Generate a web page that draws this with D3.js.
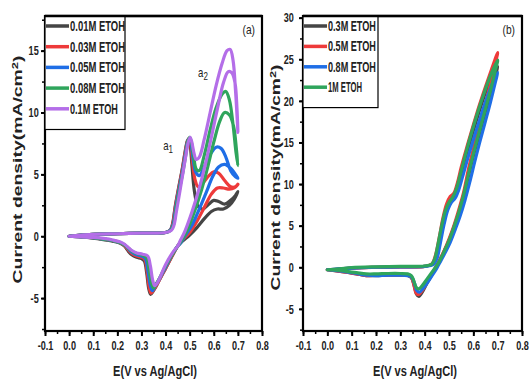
<!DOCTYPE html>
<html>
<head>
<meta charset="utf-8">
<script src="https://cdn.jsdelivr.net/npm/d3@7"></script>
<style>
  body { margin: 0; background: #fff; }
  svg { display: block; font-family: "Liberation Sans", Arial, sans-serif; }
</style>
</head>
<body>
<svg id="chart" width="529" height="381"></svg>
<script>
// ---- tick values -------------------------------------------------------
const potentialTicks = [-0.1, 0.0, 0.1, 0.2, 0.3, 0.4, 0.5, 0.6, 0.7, 0.8];
const currentTicksA = [-5, 0, 5, 10, 15];
const currentTicksB = [-5, 0, 5, 10, 15, 20, 25, 30];

// ---- series names and colours -------------------------------------------
const seriesNamesA = ["0.01M ETOH", "0.03M ETOH", "0.05M ETOH", "0.08M ETOH", "0.1M ETOH"];
const seriesNamesB = ["0.3M ETOH", "0.5M ETOH", "0.8M ETOH", "1M ETOH"];
const coloursA = ["#454545", "#ee3a3a", "#1f6ee6", "#2fa55c", "#b46ee8"];
const coloursB = ["#454545", "#ee3a3a", "#1f6ee6", "#2fa55c"];

// ---- cyclic voltammograms, [E (V), j (mA/cm2)], anodic then cathodic sweep
const cv001 = [[0,0],[0.05,0.1],[0.1,0.15],[0.2,0.2],[0.3,0.25],[0.4,0.3],[0.42,0.5],[0.43,1.1],[0.44,2.4],[0.455,4.0],[0.468,5.3],[0.48,6.7],[0.49,7.7],[0.496,7.9],[0.502,7.4],[0.51,5.6],[0.52,3.6],[0.535,2.4],[0.555,2.2],[0.58,2.6],[0.6,2.9],[0.62,2.8],[0.645,2.6],[0.67,2.9],[0.69,3.3],[0.7,3.6],
  [0.685,3.0],[0.665,2.5],[0.64,2.2],[0.615,2.2],[0.59,2.0],[0.56,1.4],[0.53,0.7],[0.5,0.1],[0.47,-0.4],[0.45,-0.8],[0.43,-1.5],[0.4,-2.6],[0.37,-3.7],[0.35,-4.4],[0.338,-4.7],[0.33,-4.2],[0.322,-3.0],[0.312,-2.0],[0.3,-1.8],[0.28,-1.7],[0.26,-1.5],[0.245,-1.2],[0.23,-0.8],[0.21,-0.55],[0.18,-0.4],[0.15,-0.3],[0.1,-0.15],[0.05,-0.05],[0,0]];
const cv003 = [[0,0],[0.05,0.1],[0.1,0.15],[0.2,0.2],[0.3,0.25],[0.4,0.3],[0.42,0.5],[0.43,1.0],[0.44,2.3],[0.455,3.9],[0.468,5.2],[0.48,6.6],[0.49,7.6],[0.497,7.9],[0.503,7.5],[0.512,6.0],[0.522,4.6],[0.535,4.0],[0.555,4.3],[0.58,4.9],[0.6,5.2],[0.62,5.1],[0.645,4.5],[0.67,4.0],[0.69,4.0],[0.7,4.2],
  [0.685,3.9],[0.665,3.8],[0.64,3.9],[0.615,3.9],[0.59,3.4],[0.56,2.3],[0.53,1.2],[0.5,0.3],[0.47,-0.3],[0.45,-0.8],[0.43,-1.5],[0.4,-2.6],[0.37,-3.7],[0.352,-4.3],[0.34,-4.6],[0.332,-4.1],[0.324,-2.9],[0.314,-1.9],[0.3,-1.7],[0.28,-1.6],[0.26,-1.4],[0.245,-1.1],[0.23,-0.75],[0.21,-0.5],[0.18,-0.35],[0.15,-0.25],[0.1,-0.12],[0.05,-0.05],[0,0]];
const cv005 = [[0,0],[0.05,0.1],[0.1,0.15],[0.2,0.2],[0.3,0.25],[0.4,0.3],[0.42,0.5],[0.432,1.0],[0.442,2.3],[0.457,3.9],[0.47,5.2],[0.482,6.6],[0.491,7.6],[0.498,7.9],[0.505,7.5],[0.514,6.3],[0.525,5.2],[0.54,4.9],[0.56,5.6],[0.585,6.6],[0.61,7.2],[0.63,7.1],[0.65,6.4],[0.67,5.3],[0.69,4.8],[0.7,4.7],
  [0.69,5.0],[0.67,5.5],[0.645,5.8],[0.62,5.6],[0.595,4.8],[0.57,3.6],[0.54,2.2],[0.51,0.9],[0.48,0.0],[0.46,-0.6],[0.45,-0.8],[0.43,-1.4],[0.4,-2.5],[0.37,-3.6],[0.355,-4.1],[0.345,-4.4],[0.336,-3.9],[0.327,-2.8],[0.316,-1.8],[0.3,-1.6],[0.28,-1.5],[0.26,-1.3],[0.245,-1.0],[0.23,-0.7],[0.21,-0.5],[0.18,-0.35],[0.15,-0.25],[0.1,-0.12],[0.05,-0.05],[0,0]];
const cv008 = [[0,0],[0.05,0.1],[0.1,0.15],[0.2,0.2],[0.3,0.25],[0.4,0.3],[0.422,0.5],[0.434,1.0],[0.444,2.3],[0.459,3.9],[0.472,5.2],[0.484,6.6],[0.493,7.7],[0.5,8.0],[0.507,7.6],[0.516,6.5],[0.528,5.4],[0.54,5.3],[0.56,6.5],[0.585,8.6],[0.61,10.4],[0.635,11.5],[0.65,11.7],[0.665,11.0],[0.68,9.0],[0.692,6.8],[0.7,5.7],
  [0.694,7.0],[0.682,8.9],[0.665,9.8],[0.645,10.0],[0.625,9.3],[0.6,7.6],[0.575,5.6],[0.55,3.8],[0.52,2.0],[0.49,0.5],[0.465,-0.4],[0.45,-0.8],[0.43,-1.4],[0.4,-2.4],[0.375,-3.4],[0.36,-3.9],[0.35,-4.2],[0.34,-3.7],[0.331,-2.6],[0.32,-1.7],[0.3,-1.5],[0.28,-1.4],[0.26,-1.2],[0.245,-0.95],[0.23,-0.7],[0.21,-0.5],[0.18,-0.35],[0.15,-0.25],[0.1,-0.12],[0.05,-0.05],[0,0]];
const cv010 = [[0,0],[0.05,0.1],[0.1,0.15],[0.2,0.2],[0.3,0.25],[0.4,0.3],[0.425,0.5],[0.435,0.9],[0.445,2.0],[0.46,3.7],[0.472,5.1],[0.484,6.5],[0.494,7.6],[0.502,8.0],[0.509,7.6],[0.517,6.8],[0.527,6.2],[0.54,6.4],[0.56,7.8],[0.585,10.0],[0.61,12.2],[0.635,14.0],[0.655,15.0],[0.668,15.1],[0.68,14.2],[0.69,11.8],[0.697,9.5],[0.7,8.4],
  [0.696,10.4],[0.688,12.4],[0.675,13.2],[0.66,13.3],[0.64,12.4],[0.615,10.3],[0.59,8.0],[0.565,5.8],[0.54,3.9],[0.51,2.0],[0.48,0.4],[0.46,-0.4],[0.45,-0.8],[0.43,-1.3],[0.4,-2.3],[0.38,-3.2],[0.365,-3.8],[0.355,-4.0],[0.346,-3.5],[0.337,-2.4],[0.326,-1.6],[0.305,-1.45],[0.28,-1.35],[0.26,-1.15],[0.245,-0.9],[0.23,-0.65],[0.21,-0.45],[0.18,-0.3],[0.15,-0.2],[0.1,-0.1],[0.05,-0.05],[0,0]];

const cv03 = [[0,-0.3],[0.05,-0.2],[0.1,-0.1],[0.2,0.0],[0.3,0.05],[0.4,0.1],[0.43,0.35],[0.445,1.2],[0.46,3.2],[0.475,5.4],[0.49,7.0],[0.505,8.0],[0.52,8.5],[0.535,9.5],[0.55,11.2],[0.575,13.9],[0.6,16.4],[0.625,18.8],[0.65,21.0],[0.675,22.8],[0.7,24.1],
  [0.69,23.0],[0.67,20.8],[0.645,18.2],[0.62,15.5],[0.6,13.4],[0.58,11.0],[0.56,8.5],[0.54,6.5],[0.52,4.8],[0.5,3.2],[0.48,1.9],[0.46,0.7],[0.445,-0.1],[0.43,-0.9],[0.41,-1.9],[0.39,-3.0],[0.376,-3.5],[0.366,-3.2],[0.356,-2.1],[0.346,-1.3],[0.33,-1.0],[0.3,-0.95],[0.25,-0.95],[0.2,-1.0],[0.16,-1.0],[0.12,-0.8],[0.08,-0.6],[0.04,-0.45],[0,-0.3]];
const cv05 = [[0,-0.3],[0.05,-0.25],[0.1,-0.1],[0.2,0.0],[0.3,0.05],[0.4,0.1],[0.43,0.4],[0.445,1.5],[0.46,3.6],[0.475,5.9],[0.49,7.6],[0.505,8.5],[0.52,8.9],[0.535,10.2],[0.55,12.0],[0.575,14.6],[0.6,17.1],[0.625,19.5],[0.65,21.7],[0.675,23.8],[0.7,25.8],
  [0.69,24.5],[0.67,22.0],[0.645,19.2],[0.62,16.4],[0.6,14.2],[0.58,11.8],[0.56,9.0],[0.54,6.9],[0.52,5.0],[0.5,3.4],[0.48,2.0],[0.46,0.8],[0.445,0.0],[0.43,-0.8],[0.41,-1.8],[0.39,-2.8],[0.375,-3.3],[0.365,-3.1],[0.355,-2.0],[0.345,-1.2],[0.33,-0.95],[0.3,-0.9],[0.25,-0.9],[0.2,-0.95],[0.16,-1.0],[0.12,-0.8],[0.08,-0.6],[0.04,-0.45],[0,-0.3]];
const cv08 = [[0,-0.3],[0.05,-0.2],[0.1,-0.1],[0.2,0.0],[0.3,0.05],[0.4,0.1],[0.435,0.3],[0.45,1.0],[0.465,3.0],[0.48,5.2],[0.495,6.9],[0.51,7.8],[0.525,8.3],[0.54,9.3],[0.555,10.8],[0.58,13.4],[0.605,15.8],[0.63,18.1],[0.655,20.3],[0.68,22.2],[0.7,23.4],
  [0.69,22.2],[0.67,19.8],[0.65,17.6],[0.625,14.9],[0.605,12.6],[0.585,10.2],[0.565,8.0],[0.545,6.1],[0.525,4.5],[0.505,3.0],[0.485,1.8],[0.465,0.7],[0.45,-0.1],[0.435,-0.8],[0.415,-1.7],[0.395,-2.5],[0.378,-3.0],[0.368,-2.8],[0.358,-1.9],[0.347,-1.2],[0.33,-1.0],[0.3,-0.95],[0.25,-0.95],[0.2,-1.0],[0.16,-0.95],[0.12,-0.75],[0.08,-0.55],[0.04,-0.4],[0,-0.3]];
const cv1 = [[0,-0.3],[0.05,-0.2],[0.1,-0.05],[0.2,0.05],[0.3,0.1],[0.4,0.15],[0.428,0.35],[0.44,0.9],[0.455,2.8],[0.47,5.0],[0.485,6.8],[0.5,7.8],[0.515,8.4],[0.53,9.4],[0.545,11.0],[0.57,13.8],[0.595,16.4],[0.62,18.8],[0.645,21.0],[0.67,23.0],[0.7,24.9],
  [0.69,23.6],[0.67,21.2],[0.645,18.5],[0.62,15.8],[0.6,13.6],[0.58,11.2],[0.56,8.7],[0.54,6.6],[0.52,4.8],[0.5,3.2],[0.48,1.9],[0.46,0.7],[0.445,0.0],[0.43,-0.6],[0.41,-1.4],[0.39,-2.2],[0.375,-2.6],[0.365,-2.4],[0.355,-1.6],[0.345,-1.0],[0.33,-0.8],[0.3,-0.75],[0.25,-0.75],[0.2,-0.8],[0.16,-0.8],[0.12,-0.65],[0.08,-0.5],[0.04,-0.35],[0,-0.3]];

const seriesA = [cv001, cv003, cv005, cv008, cv010];
const seriesB = [cv03, cv05, cv08, cv1];

const svg = d3.select("#chart");

// stretch or squeeze a text element horizontally so that it spans `target` px
function fitWidth(sel, target, x, y, rotate) {
  const w = sel.node().getBBox().width;
  const k = target / w;
  sel.attr("transform", `translate(${x},${y})${rotate ? " rotate(-90)" : ""} scale(${k},1)`);
}

function panel(cfg) {
  const { left, right, top, bottom, yDomain, yTicks, series, colours, names, tag, legendW, legendRowH, legendTextW, yLabelX, xLabelX, yLabelSpan, yTickGap } = cfg;
  const g = svg.append("g");
  const x = d3.scaleLinear().domain([-0.1, 0.8]).range([left, right]);
  const y = d3.scaleLinear().domain(yDomain).range([bottom, top]);

  // curves
  const line = d3.line().x(d => x(d[0])).y(d => y(d[1])).curve(d3.curveCatmullRom.alpha(0.5));
  g.append("g").selectAll("path").data(series).join("path")
    .attr("d", line)
    .attr("fill", "none")
    .attr("stroke", (d, i) => colours[i])
    .attr("stroke-width", 3.2)
    .attr("stroke-linejoin", "round")
    .attr("stroke-linecap", "round");

  // minor ticks
  const minorX = d3.range(-0.1, 0.81, 0.05).map(v => +v.toFixed(2));
  g.append("g").attr("transform", `translate(0,${bottom})`)
    .call(d3.axisBottom(x).tickValues(minorX).tickSize(3).tickFormat(""))
    .call(a => a.select(".domain").remove())
    .selectAll("line").attr("stroke-width", 1.5);
  const step = yTicks[1] - yTicks[0];
  const minorY = d3.range(yTicks[0] - step, yTicks[yTicks.length - 1] + step, step / 2)
    .filter(v => v >= yDomain[0] && v <= yDomain[1]);
  g.append("g").attr("transform", `translate(${left},0)`)
    .call(d3.axisLeft(y).tickValues(minorY).tickSize(3).tickFormat(""))
    .call(a => a.select(".domain").remove())
    .selectAll("line").attr("stroke-width", 1.5);

  // major ticks and labels
  const ax = g.append("g").attr("transform", `translate(0,${bottom})`)
    .call(d3.axisBottom(x).tickValues(potentialTicks).tickSize(5).tickPadding(5).tickFormat(d => d.toFixed(1)));
  ax.select(".domain").remove();
  ax.selectAll("line").attr("stroke-width", 2);
  ax.selectAll("text").attr("font-size", 13).attr("font-weight", "bold").attr("fill", "#222")
    .attr("transform", "scale(0.7,1)");

  const ay = g.append("g").attr("transform", `translate(${left},0)`)
    .call(d3.axisLeft(y).tickValues(yTicks).tickSize(4).tickPadding(yTickGap).tickFormat(d => String(d)));
  ay.select(".domain").remove();
  ay.selectAll("line").attr("stroke-width", 2);
  ay.selectAll("text").attr("font-size", 13).attr("font-weight", "bold").attr("fill", "#222")
    .attr("transform", "scale(0.7,1)");

  // frame
  g.append("rect").attr("x", left).attr("y", top).attr("width", right - left).attr("height", bottom - top)
    .attr("fill", "none").attr("stroke", "#000").attr("stroke-width", 2.2);

  // legend
  const lg = g.append("g");
  lg.append("rect").attr("x", left).attr("y", top).attr("width", legendW)
    .attr("height", names.length * legendRowH + 10)
    .attr("fill", "#fff").attr("stroke", "#000").attr("stroke-width", 1.2);
  names.forEach((n, i) => {
    const cy = top + 10 + i * legendRowH;
    lg.append("line").attr("x1", left + 1).attr("x2", left + 24).attr("y1", cy).attr("y2", cy)
      .attr("stroke", colours[i]).attr("stroke-width", 3.5);
    const t = lg.append("text").text(n).attr("font-size", 14).attr("font-weight", "bold")
      .attr("fill", "#222").attr("dy", "0.36em");
    fitWidth(t, legendTextW[i], left + 25, cy, false);
  });
  // redraw top frame edge over legend
  g.append("line").attr("x1", left).attr("x2", right).attr("y1", top).attr("y2", top)
    .attr("stroke", "#000").attr("stroke-width", 2.6);

  // panel tag
  g.append("text").text(tag).attr("x", right - 7).attr("y", top + 18)
    .attr("text-anchor", "end").attr("font-size", 12).attr("fill", "#222")
    .attr("transform", `translate(${(right - 7) * 0.15},0) scale(0.85,1)`);

  // axis titles
  const yl = svg.append("text").attr("text-anchor", "middle").attr("font-size", 13.5)
    .attr("font-weight", "bold").attr("fill", "#222");
  yl.append("tspan").text("Current density(mA/cm");
  yl.append("tspan").text("2").attr("font-size", 9).attr("dy", "-0.5em");
  yl.append("tspan").text(")").attr("dy", "0.35em");
  fitWidth(yl, yLabelSpan, yLabelX, (top + bottom) / 2 + cfg.yLabelShift, true);

  const xl = svg.append("text").text("E(V vs Ag/AgCl)").attr("text-anchor", "middle")
    .attr("font-size", 14.5).attr("font-weight", "bold").attr("fill", "#222");
  fitWidth(xl, 84, xLabelX, 376, false);

  return { x, y, g };
}

const pa = panel({
  left: 45, right: 262, top: 16, bottom: 331,
  yDomain: [-7.66, 17.8], yTicks: currentTicksA,
  series: seriesA, colours: coloursA, names: seriesNamesA, tag: "(a)",
  legendW: 80, legendRowH: 20.7, legendTextW: [55, 55, 55, 55, 48],
  yLabelX: 22, yLabelSpan: 228, yLabelShift: -4, xLabelX: 155, yTickGap: 5
});
const pb = panel({
  left: 303, right: 522, top: 16, bottom: 331,
  yDomain: [-7.66, 30.2], yTicks: currentTicksB,
  series: seriesB, colours: coloursB, names: seriesNamesB, tag: "(b)",
  legendW: 75, legendRowH: 20.4, legendTextW: [48, 48, 48, 34],
  yLabelX: 280, yLabelSpan: 226, yLabelShift: 4, xLabelX: 415, yTickGap: 9
});

// peak annotations
function peakLabel(base, sub, px, py) {
  const t = svg.append("text").attr("font-size", 12).attr("fill", "#222");
  t.append("tspan").text(base);
  t.append("tspan").text(sub).attr("font-size", 10).attr("dy", "0.3em");
  t.attr("transform", `translate(${px},${py}) scale(0.8,1)`);
}
peakLabel("a", "1", pa.x(0.39), pa.y(7.0));
peakLabel("a", "2", pa.x(0.535), pa.y(12.9));
</script>
</body>
</html>
